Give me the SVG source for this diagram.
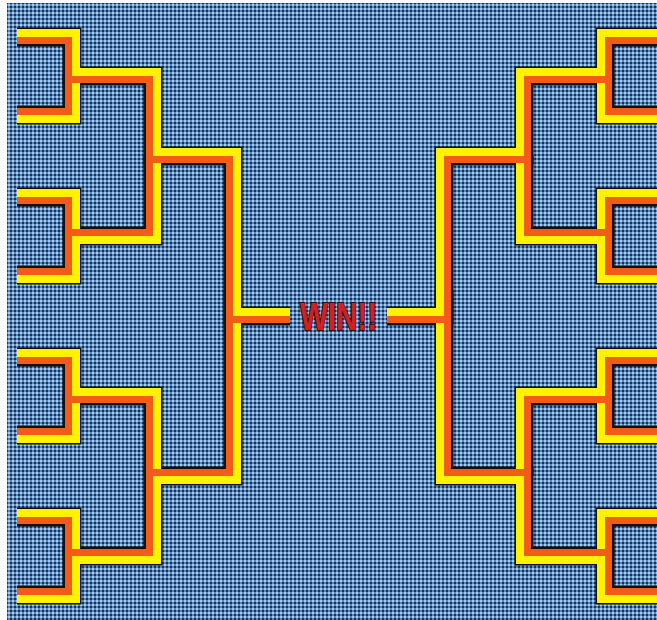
<svg xmlns="http://www.w3.org/2000/svg" width="657" height="620" viewBox="0 0 657 620">
<style>
.blk{fill:none;stroke:#111111;stroke-width:19}
.org{fill:none;stroke:#f25c16;stroke-width:14}
.yel{fill:none;stroke:#fff200;stroke-width:8}
.win{font-family:"Liberation Sans",Arial,sans-serif;font-weight:bold;font-size:39px;fill:#d42020;stroke:#3a0808;stroke-width:2;paint-order:stroke}
</style>
<defs>
<pattern id="dots" width="4" height="4" patternUnits="userSpaceOnUse">
<rect width="4" height="4" fill="#5887b8"/>
<rect width="2" height="2" fill="#a4ccf0"/>
<rect x="2" y="2" width="2" height="2" fill="#1c325c"/>
</pattern>
<path id="b1" d="M17,37H72V76H153V156H233V316"/>
<path id="y1" d="M17,33H76V72H157V152H237V316"/>
<path id="b2" d="M17,115H72V76"/>
<path id="y2" d="M17,119H76V76"/>
<path id="b3" d="M17,197H72V236"/>
<path id="y3" d="M17,193H76V236"/>
<path id="b4" d="M17,275H72V236H153V156"/>
<path id="y4" d="M17,279H76V240H157V156"/>
<path id="bs" d="M233,290V316H290"/>
<path id="ys" d="M237,290V312H290"/>
<g id="hb">
<use href="#b2" class="blk"/><use href="#b3" class="blk"/><use href="#b4" class="blk"/><use href="#b1" class="blk"/>
</g>
<g id="hc">
<use href="#b2" class="org"/><use href="#y2" class="yel"/>
<use href="#b3" class="org"/><use href="#y3" class="yel"/>
<use href="#b4" class="org"/><use href="#y4" class="yel"/>
<use href="#b1" class="org"/><use href="#y1" class="yel"/>
</g>
<g id="sb">
<use href="#hb"/><use href="#hb" transform="matrix(1 0 0 -1 0 632)"/><use href="#bs" class="blk"/>
</g>
<g id="sc">
<use href="#hc"/><use href="#hc" transform="matrix(1 0 0 -1 0 632)"/><use href="#bs" class="org"/><use href="#ys" class="yel"/>
</g>
</defs>
<rect width="657" height="620" fill="#ffffff"/>
<rect x="7" y="3" width="650" height="617" fill="url(#dots)"/>
<g id="connectors">
<use href="#sb"/><use href="#sb" transform="matrix(-1 0 0 1 677 0)"/>
<use href="#sc"/><use href="#sc" transform="matrix(-1 0 0 1 677 0)"/>
</g>
<g id="node-win">
<text class="win" x="338.5" y="330" text-anchor="middle" textLength="77" lengthAdjust="spacingAndGlyphs">WIN!!</text>
</g>
</svg>
